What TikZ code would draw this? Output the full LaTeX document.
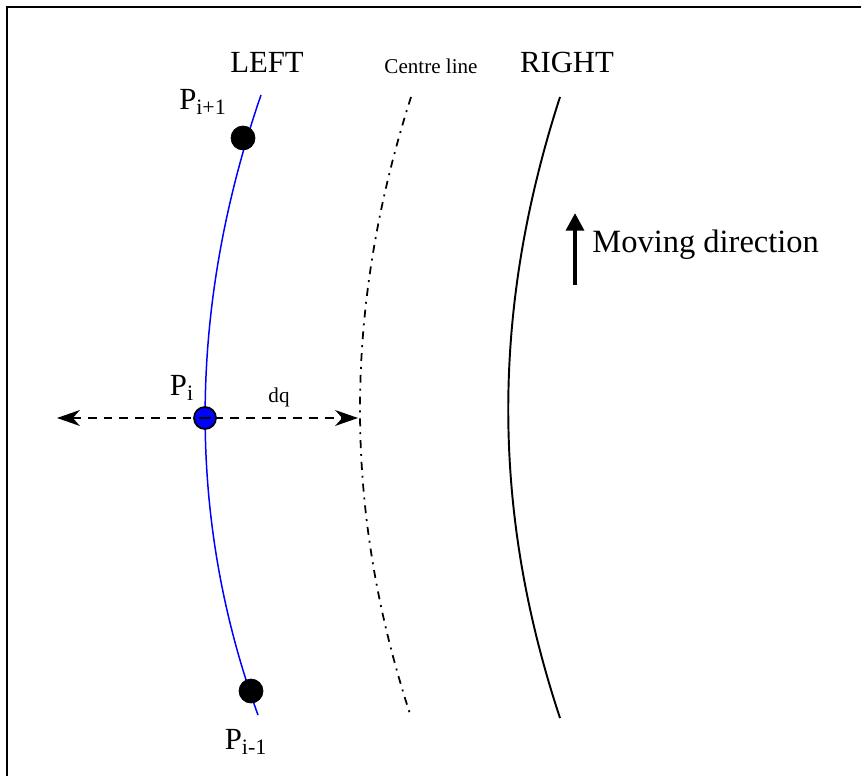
\documentclass[tikz,border=0pt]{standalone}
\usepackage{fontspec}
\setmainfont{Liberation Serif}
\usetikzlibrary{arrows.meta,positioning}
\tikzstyle{black dot}=[fill=black, draw=black, shape=circle, inner sep=0pt, minimum size=0.48cm]
\tikzstyle{blue dot}=[fill={rgb,255: red,0; green,0; blue,255}, draw=black, shape=circle,
        line width=1pt, inner sep=0pt, minimum size=0.44cm]
\tikzstyle{big label}=[inner sep=0pt, font=\fontsize{17.5}{20}\selectfont]
\tikzstyle{small label}=[inner sep=0pt, font=\fontsize{12}{14}\selectfont]
\tikzstyle{left edge}=[-, draw={rgb,255: red,0; green,0; blue,255}, line width=0.85pt]
\tikzstyle{centre edge}=[-, draw=black, line width=1pt,
        dash pattern=on 4.5pt off 3.4pt on 1.1pt off 3.4pt]
\tikzstyle{right edge}=[-, draw=black, line width=1.1pt]
\tikzstyle{offset edge}=[draw=black, line width=1.1pt, dash pattern=on 5pt off 4pt,
        {Stealth[length=13pt,width=9pt,inset=4pt]}-{Stealth[length=13pt,width=9pt,inset=4pt]}]
\tikzstyle{move edge}=[draw=black, line width=2.4pt, -{Triangle[length=10pt,width=10pt]}]
\newcommand{\sub}[1]{\textsubscript{\fontsize{12.5}{14}\selectfont #1}}
\begin{document}
\begin{tikzpicture}[x=0.02cm, y=-0.02cm]
            \useasboundingbox (0, 0) rectangle (861, 776);
            % frame, only top and left visible
            \draw [line width=1.1pt] (7, 776) -- (7, 7) -- (861, 7);

            % boundaries
            \coordinate (0) at (261, 95);
            \coordinate (1) at (258, 715);
            \coordinate (2) at (411, 97);
            \coordinate (3) at (411, 717);
            \coordinate (4) at (560, 97);
            \coordinate (5) at (560, 718);
            \coordinate (6) at (358, 418);
            \coordinate (7) at (57, 418);

            \draw [style=left edge] (0) .. controls (187, 310) and (187, 520) .. (1);
            \draw [style=centre edge] (2) .. controls (343, 310) and (343, 510) .. (3);
            \draw [style=right edge] (4) .. controls (491, 310) and (491, 510) .. (5);

            \draw [style=offset edge] (7) to (6);

            \node [style=black dot] (8) at (243, 138) {};
            \node [style=black dot] (9) at (251, 691) {};
            \node [style=blue dot] (10) at (205, 418) {};
            \draw [line width=1.4pt] ([xshift=-0.12cm]10.center) to ([xshift=0.12cm]10.center);

            % labels
            \node [style=big label] (11) at (267, 62) {LEFT};
            \node [style=small label] (12) at (431, 66) {Centre line};
            \node [style=big label] (13) at (567, 62) {RIGHT};
            \node [style=big label] (14) at (203, 102) {P\sub{i+1}};
            \node [style=big label] (15) at (182, 388) {P\sub{i}};
            \node [style=small label] (16) at (279, 397) {dq};
            \node [style=big label] (17) at (246, 742) {P\sub{i-1}};

            % moving direction
            \coordinate (18) at (575, 285);
            \coordinate (19) at (575, 213);
            \draw [style=move edge] (18) to (19);
            \node [style=big label, anchor=west] (20) at (592, 245) {\fontsize{18.5}{22}\selectfont Moving direction};
\end{tikzpicture}
\end{document}
